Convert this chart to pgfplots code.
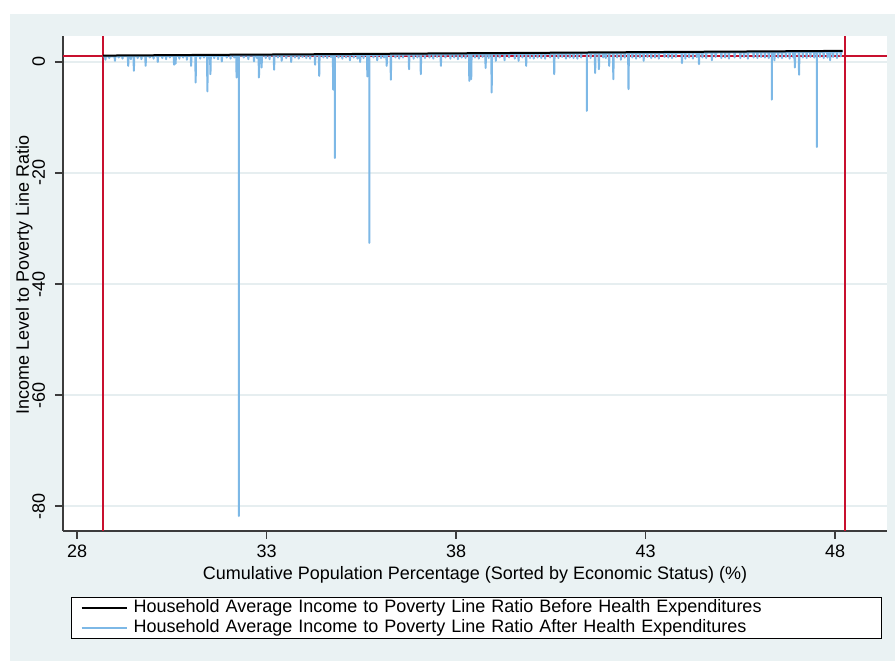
\documentclass[border=0pt]{standalone}
\usepackage{fontspec}
\setmainfont{Liberation Sans}
\usepackage{pgfplots}
\pgfplotsset{compat=1.18}
\definecolor{bgc}{HTML}{EAF2F3}
\definecolor{gridc}{HTML}{E6EEF0}
\definecolor{stblue}{HTML}{7DB8E6}
\definecolor{stred}{HTML}{C8102E}
\definecolor{axc}{HTML}{3C3C3C}
\newcommand\fs{\fontsize{18}{21}\selectfont}
\begin{document}
\begin{tikzpicture}
\fill[white] (0pt,0pt) rectangle (895pt,661pt);
\fill[bgc] (10pt,0pt) rectangle (895pt,647pt);
\begin{axis}[
  at={(63pt,130pt)}, anchor=south west,
  scale only axis, width=824pt, height=495pt,
  xmin=27.63, xmax=49.37, ymin=-84.5, ymax=4.68,
  axis lines*=left,
  axis line style={axc, line width=1.3pt, -},
  axis background/.style={fill=white},
  xtick={28,33,38,43,48}, ytick={-80,-60,-40,-20,0},
  tick align=outside, major tick length=8pt,
  tick style={axc, line width=1.3pt},
  ymajorgrids, grid style={gridc, line width=1.8pt},
  /pgf/number format/assume math mode=true,
  tick label style={font=\fs},
  xticklabel style={anchor=base}, xticklabel shift=18.5pt,
  yticklabel style={rotate=90, anchor=base}, yticklabel shift=10pt,
  xlabel={Cumulative Population Percentage (Sorted by Economic Status) (\%)},
  ylabel={Income Level to Poverty Line Ratio},
  every axis x label/.style={at={(axis description cs:0.5,-0.097)}, anchor=base, font=\fs},
  every axis y label/.style={at={(axis description cs:-0.0413,0.518)}, anchor=base, rotate=90, font=\fs},
  legend image code/.code={\draw[#1] (0pt,0pt) -- (45pt,0pt);},
  reverse legend,
  legend cell align=left,
  legend style={at={(axis description cs:0.0097,-0.1333)}, anchor=north west,
    draw=black, line width=1.2pt, fill=white, font=\fs,
    inner xsep=9pt, inner ysep=0.5pt, row sep=0pt,
    nodes={inner xsep=6pt, inner ysep=1.5pt, text height=13pt, text depth=4pt},
    /tikz/column 2/.style={text width=733pt, align=left}},
]
% red reference lines
\addplot[stred, line width=2pt, forget plot] coordinates {(27.63,1) (49.37,1)};
\addplot[stred, line width=2pt, forget plot] coordinates {(28.69,-84.5) (28.69,4.68)};
\addplot[stred, line width=2pt, forget plot] coordinates {(48.26,-84.5) (48.26,4.68)};
% after health expenditures
\addplot[stblue, line width=2pt, line join=round] coordinates {
(28.69,1.0)
(28.74,1.01) (28.75,0.4) (28.76,1.01)
(28.84,1.01) (28.85,0.7) (28.86,1.01)
(28.99,1.02) (29.00,0.2) (29.01,1.02)
(29.09,1.04) (29.10,0.8) (29.11,1.04)
(29.19,1.04) (29.20,0.6) (29.21,1.04)
(29.34,1.04) (29.35,-0.7) (29.36,1.04)
(29.41,1.04) (29.42,0.5) (29.43,1.04)
(29.49,1.04) (29.50,-1.6) (29.51,1.04)
(29.59,1.05) (29.60,0.7) (29.61,1.05)
(29.69,1.05) (29.70,0.5) (29.71,1.05)
(29.80,1.05) (29.81,-0.7) (29.82,1.05)
(29.91,1.06) (29.92,0.8) (29.93,1.06)
(30.01,1.08) (30.02,0.6) (30.03,1.08)
(30.12,1.08) (30.13,0.0) (30.14,1.08)
(30.24,1.08) (30.25,0.7) (30.26,1.08)
(30.34,1.08) (30.35,0.5) (30.36,1.08)
(30.44,1.08) (30.45,0.8) (30.46,1.08)
(30.55,1.08) (30.56,-0.5) (30.57,1.08)
(30.59,1.08) (30.60,-0.3) (30.61,1.08)
(30.69,1.08) (30.70,0.6) (30.71,1.08)
(30.79,1.08) (30.80,0.8) (30.81,1.08)
(30.89,1.08) (30.90,0.4) (30.91,1.08)
(31.00,1.12) (31.01,-0.7) (31.02,1.12)
(31.12,1.12) (31.13,-3.7) (31.14,1.12)
(31.24,1.12) (31.25,0.6) (31.26,1.12)
(31.34,1.12) (31.35,0.8) (31.36,1.12)
(31.43,1.12) (31.44,-5.3) (31.45,1.12)
(31.51,1.12) (31.52,-2.2) (31.53,1.12)
(31.61,1.12) (31.62,0.7) (31.63,1.12)
(31.71,1.12) (31.72,0.5) (31.73,1.12)
(31.81,1.12) (31.82,0.1) (31.83,1.12)
(31.94,1.12) (31.95,0.8) (31.96,1.12)
(32.04,1.16) (32.05,0.6) (32.06,1.16)
(32.14,1.16) (32.15,0.8) (32.16,1.16)
(32.20,1.16) (32.21,-2.8) (32.22,1.16)
(32.27,1.16) (32.27,-81.8) (32.27,1.16)
(32.39,1.16) (32.40,0.8) (32.41,1.16)
(32.51,1.16) (32.52,0.5) (32.53,1.16)
(32.66,1.16) (32.67,0.1) (32.68,1.16)
(32.74,1.16) (32.75,0.7) (32.76,1.16)
(32.79,1.16) (32.80,-2.8) (32.81,1.16)
(32.86,1.16) (32.87,-1.0) (32.88,1.16)
(32.97,1.16) (32.98,0.7) (32.99,1.16)
(33.07,1.21) (33.08,0.5) (33.09,1.21)
(33.19,1.21) (33.20,-1.4) (33.21,1.21)
(33.29,1.21) (33.30,0.8) (33.31,1.21)
(33.39,1.21) (33.40,0.2) (33.41,1.21)
(33.51,1.21) (33.52,0.7) (33.53,1.21)
(33.64,1.21) (33.65,0.0) (33.66,1.21)
(33.74,1.21) (33.75,0.8) (33.76,1.21)
(33.84,1.21) (33.85,0.6) (33.86,1.21)
(33.94,1.21) (33.95,0.9) (33.96,1.21)
(34.04,1.25) (34.05,0.7) (34.06,1.25)
(34.14,1.25) (34.15,0.6) (34.16,1.25)
(34.27,1.25) (34.28,-0.5) (34.29,1.25)
(34.38,1.25) (34.39,-2.5) (34.40,1.25)
(34.49,1.25) (34.50,0.8) (34.51,1.25)
(34.59,1.25) (34.60,0.7) (34.61,1.25)
(34.69,1.25) (34.70,0.9) (34.71,1.25)
(34.75,1.25) (34.76,-5.0) (34.77,1.25)
(34.80,1.25) (34.80,-17.3) (34.80,1.25)
(34.89,1.25) (34.90,0.8) (34.91,1.25)
(34.99,1.25) (35.00,0.6) (35.01,1.3)
(35.09,1.3) (35.10,0.8) (35.11,1.3)
(35.19,1.3) (35.20,0.3) (35.21,1.3)
(35.29,1.3) (35.30,0.8) (35.31,1.3)
(35.39,1.3) (35.40,0.6) (35.41,1.3)
(35.46,1.3) (35.47,0.0) (35.48,1.3)
(35.55,1.3) (35.56,0.7) (35.57,1.3)
(35.65,1.3) (35.66,-2.6) (35.67,1.3)
(35.71,1.3) (35.71,-32.6) (35.71,1.3)
(35.81,1.3) (35.82,0.8) (35.83,1.3)
(35.91,1.3) (35.92,0.3) (35.93,1.3)
(36.01,1.34) (36.02,0.7) (36.03,1.34)
(36.09,1.34) (36.10,0.8) (36.11,1.34)
(36.16,1.34) (36.17,-0.7) (36.18,1.34)
(36.27,1.34) (36.28,-3.2) (36.29,1.34)
(36.39,1.34) (36.40,0.8) (36.41,1.34)
(36.49,1.34) (36.50,0.6) (36.51,1.34)
(36.59,1.34) (36.60,0.8) (36.61,1.34)
(36.75,1.34) (36.76,-1.3) (36.77,1.34)
(36.87,1.34) (36.88,0.6) (36.89,1.34)
(36.97,1.34) (36.98,0.8) (36.99,1.34)
(37.06,1.38) (37.07,-2.2) (37.08,1.38)
(37.17,1.38) (37.18,0.7) (37.19,1.38)
(37.29,1.38) (37.30,0.8) (37.31,1.38)
(37.39,1.38) (37.40,0.6) (37.41,1.38)
(37.49,1.38) (37.50,0.9) (37.51,1.38)
(37.59,1.38) (37.60,-0.7) (37.61,1.38)
(37.71,1.38) (37.72,0.8) (37.73,1.38)
(37.84,1.38) (37.85,0.6) (37.86,1.38)
(37.94,1.38) (37.95,0.8) (37.96,1.38)
(38.04,1.43) (38.05,0.5) (38.06,1.43)
(38.14,1.43) (38.15,0.8) (38.16,1.43)
(38.24,1.43) (38.25,0.7) (38.26,1.43)
(38.34,1.43) (38.35,-3.4) (38.36,1.43)
(38.39,1.43) (38.40,-3.1) (38.41,1.43)
(38.49,1.43) (38.50,0.8) (38.51,1.43)
(38.59,1.43) (38.60,0.6) (38.61,1.43)
(38.69,1.43) (38.70,0.9) (38.71,1.43)
(38.77,1.43) (38.78,-1.1) (38.79,1.43)
(38.85,1.43) (38.86,0.7) (38.87,1.43)
(38.93,1.43) (38.94,-5.5) (38.95,1.43)
(39.04,1.47) (39.05,0.2) (39.06,1.47)
(39.14,1.47) (39.15,0.8) (39.16,1.47)
(39.27,1.47) (39.28,0.3) (39.29,1.47)
(39.39,1.47) (39.40,0.8) (39.41,1.47)
(39.54,1.47) (39.55,0.6) (39.56,1.47)
(39.64,1.47) (39.65,0.2) (39.66,1.47)
(39.74,1.47) (39.75,0.8) (39.76,1.47)
(39.84,1.47) (39.85,-0.7) (39.86,1.47)
(39.94,1.47) (39.95,0.7) (39.96,1.47)
(40.04,1.52) (40.05,0.6) (40.06,1.52)
(40.14,1.52) (40.15,0.8) (40.16,1.52)
(40.24,1.52) (40.25,0.7) (40.26,1.52)
(40.34,1.52) (40.35,0.6) (40.36,1.52)
(40.47,1.52) (40.48,0.8) (40.49,1.52)
(40.58,1.52) (40.59,-2.2) (40.60,1.52)
(40.69,1.52) (40.70,0.7) (40.71,1.52)
(40.79,1.52) (40.80,0.9) (40.81,1.52)
(40.89,1.52) (40.90,0.6) (40.91,1.52)
(40.99,1.56) (41.00,0.8) (41.01,1.56)
(41.09,1.56) (41.10,0.7) (41.11,1.56)
(41.19,1.56) (41.20,0.6) (41.21,1.56)
(41.29,1.56) (41.30,0.8) (41.31,1.56)
(41.45,1.56) (41.45,-8.8) (41.45,1.56)
(41.54,1.56) (41.55,0.7) (41.56,1.56)
(41.66,1.56) (41.67,-2.0) (41.68,1.56)
(41.76,1.56) (41.77,-1.3) (41.78,1.56)
(41.87,1.56) (41.88,0.8) (41.89,1.56)
(41.94,1.56) (41.95,0.7) (41.96,1.56)
(42.03,1.6) (42.04,-0.7) (42.05,1.6)
(42.14,1.6) (42.15,-3.1) (42.16,1.6)
(42.24,1.6) (42.25,0.8) (42.26,1.6)
(42.34,1.6) (42.35,0.4) (42.36,1.6)
(42.44,1.6) (42.45,0.8) (42.46,1.6)
(42.54,1.6) (42.55,-4.9) (42.56,1.6)
(42.64,1.6) (42.65,0.8) (42.66,1.6)
(42.74,1.6) (42.75,0.6) (42.76,1.6)
(42.84,1.6) (42.85,0.8) (42.86,1.6)
(42.94,1.6) (42.95,0.2) (42.96,1.6)
(43.04,1.65) (43.05,0.9) (43.06,1.65)
(43.14,1.65) (43.15,0.7) (43.16,1.65)
(43.24,1.65) (43.25,0.8) (43.26,1.65)
(43.34,1.65) (43.35,0.6) (43.36,1.65)
(43.49,1.65) (43.50,0.9) (43.51,1.65)
(43.59,1.65) (43.60,0.8) (43.61,1.65)
(43.69,1.65) (43.70,0.7) (43.71,1.65)
(43.79,1.65) (43.80,0.9) (43.81,1.65)
(43.95,1.65) (43.96,-0.2) (43.97,1.65)
(44.04,1.69) (44.05,0.6) (44.06,1.69)
(44.14,1.69) (44.15,0.8) (44.16,1.69)
(44.24,1.69) (44.25,0.6) (44.26,1.69)
(44.34,1.69) (44.35,0.9) (44.36,1.69)
(44.40,1.69) (44.41,-0.4) (44.42,1.69)
(44.49,1.69) (44.50,0.8) (44.51,1.69)
(44.59,1.69) (44.60,0.7) (44.61,1.69)
(44.74,1.69) (44.75,0.3) (44.76,1.69)
(44.84,1.69) (44.85,0.9) (44.86,1.69)
(44.99,1.73) (45.00,0.7) (45.01,1.73)
(45.09,1.73) (45.10,0.8) (45.11,1.73)
(45.19,1.73) (45.20,0.6) (45.21,1.73)
(45.34,1.73) (45.35,0.8) (45.36,1.73)
(45.49,1.73) (45.50,0.7) (45.51,1.73)
(45.59,1.73) (45.60,0.9) (45.61,1.73)
(45.69,1.73) (45.70,0.6) (45.71,1.73)
(45.84,1.73) (45.85,0.8) (45.86,1.73)
(45.94,1.73) (45.95,0.7) (45.96,1.73)
(46.04,1.78) (46.05,0.9) (46.06,1.78)
(46.14,1.78) (46.15,0.8) (46.16,1.78)
(46.24,1.78) (46.25,0.7) (46.26,1.78)
(46.33,1.78) (46.33,-6.8) (46.33,1.78)
(46.39,1.78) (46.40,0.3) (46.41,1.78)
(46.49,1.78) (46.50,0.8) (46.51,1.78)
(46.59,1.78) (46.60,0.7) (46.61,1.78)
(46.69,1.78) (46.70,0.9) (46.71,1.78)
(46.79,1.78) (46.80,0.6) (46.81,1.78)
(46.89,1.78) (46.90,0.8) (46.91,1.78)
(46.93,1.78) (46.94,-1.0) (46.95,1.78)
(47.04,1.82) (47.05,-2.3) (47.06,1.82)
(47.14,1.82) (47.15,0.8) (47.16,1.82)
(47.24,1.82) (47.25,0.7) (47.26,1.82)
(47.34,1.82) (47.35,0.9) (47.36,1.82)
(47.44,1.82) (47.45,0.8) (47.46,1.82)
(47.52,1.82) (47.52,-15.3) (47.52,1.82)
(47.59,1.82) (47.60,0.9) (47.61,1.82)
(47.69,1.82) (47.70,0.7) (47.71,1.82)
(47.79,1.82) (47.80,0.8) (47.81,1.82)
(47.86,1.82) (47.87,0.3) (47.88,1.82)
(47.94,1.82) (47.95,0.9) (47.96,1.82)
(48.04,1.86) (48.05,0.7) (48.06,1.86)
(48.14,1.86) (48.15,1.0) (48.16,1.86)
(48.2,1.86)
};
\addlegendentry{Household Average Income to Poverty Line Ratio After Health Expenditures}
% before health expenditures
\addplot[black, line width=2pt] coordinates {
(28.69,1.15) (30,1.21) (32,1.30) (34,1.38) (36,1.47) (38,1.56)
(40,1.64) (42,1.73) (44,1.82) (46,1.90) (48.2,2.0)
};
\addlegendentry{Household Average Income to Poverty Line Ratio Before Health Expenditures}
\end{axis}
\end{tikzpicture}
\end{document}
